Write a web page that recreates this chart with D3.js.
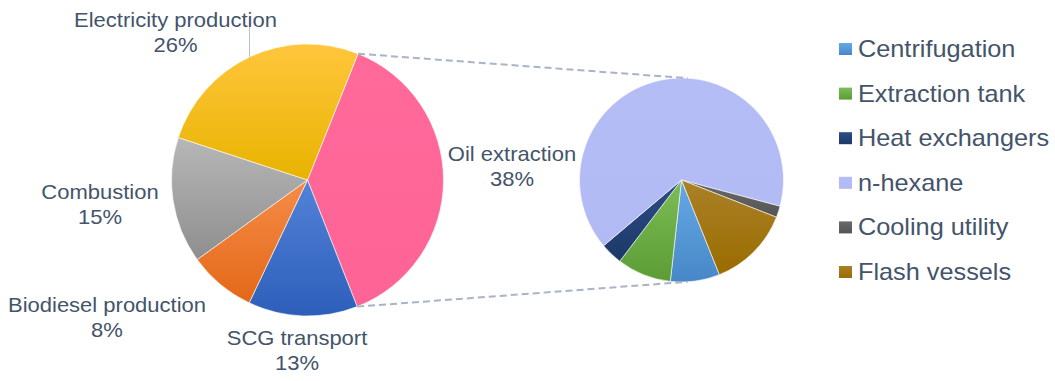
<!DOCTYPE html>
<html>
<head>
<meta charset="utf-8">
<script src="https://cdn.jsdelivr.net/npm/d3@7"></script>
<style>
	body { margin: 0; background: #fff; }
	svg { display: block; }
	text { font-family: "Liberation Sans", Arial, sans-serif; fill: #44546a; }
</style>
</head>
<body>
<svg id="chart" width="1055" height="381"></svg>
<script>
// main pie data (clockwise from the oil extraction slice)
var mainNames = ['Oil extraction', 'SCG transport', 'Biodiesel production', 'Combustion', 'Electricity production'];
var mainValues = [38, 13, 8, 15, 26];
var mainLabels = ['38%', '13%', '8%', '15%', '26%'];

// breakdown of oil extraction (legend order)
var subNames = ['Centrifugation', 'Extraction tank', 'Heat exchangers', 'n-hexane', 'Cooling utility', 'Flash vessels'];
var subValues = [7.8, 8.6, 3.5, 65.3, 1.8, 13.0];

(function() {
var app = {
	// colours - top / bottom of each slice gradient
	mainColors : [['#ff6a9b', '#fe6395'], ['#5382d8', '#2d5fba'], ['#f68c48', '#e36818'], ['#b7b7b7', '#8e8e8e'], ['#ffc63c', '#e8b300']],
	subColors : [['#66a9e6', '#4787c7'], ['#7dbd57', '#5c9c34'], ['#2d4e88', '#1d3868'], ['#b5bdf7', '#b2baf4'], ['#6a6a6a', '#555555'], ['#ab8128', '#9a6c00']],

	// label layout for the big pie (centre x, first baseline)
	labelPos : [[512, 161], [297, 345], [107, 312], [100, 199], [175.5, 26.5]],

	draw : function() {
		var svg = d3.select('#chart'),
				defs = svg.append('defs'),
				deg = Math.PI / 180;

		var main = {cx: 307.5, cy: 180, r: 136, start: 21.8 * deg},
				sub = {cx: 681.5, cy: 180, r: 102, start: 158.2 * deg};

		function gradient(id, cols) {
			var g = defs.append('linearGradient')
					.attr('id', id)
					.attr('x1', 0).attr('y1', 0).attr('x2', 0).attr('y2', 1);
			g.append('stop').attr('offset', '0%').attr('stop-color', cols[0]);
			g.append('stop').attr('offset', '100%').attr('stop-color', cols[1]);
		}

		function drawPie(p, values, colors, prefix) {
			var pie = d3.pie().sort(null).startAngle(p.start).endAngle(p.start + 2 * Math.PI),
					arc = d3.arc().innerRadius(0).outerRadius(p.r),
					arcs = pie(values);
			colors.forEach(function(c, i) { gradient(prefix + i, c); });
			svg.append('g')
				.attr('transform', 'translate(' + p.cx + ',' + p.cy + ')')
				.selectAll('path')
				.data(arcs)
				.enter().append('path')
					.attr('d', arc)
					.attr('fill', function(d, i) { return 'url(#' + prefix + i + ')'; })
					.attr('stroke', '#fff')
					.attr('stroke-width', 0.6);
			return arcs;
		}

		function point(p, a) {
			return [p.cx + p.r * Math.sin(a), p.cy - p.r * Math.cos(a)];
		}

		// stretched text like the original rendering
		function label(x, y, str, size, anchor) {
			svg.append('text')
				.attr('transform', 'translate(' + x + ',' + y + ') scale(1.1,1)')
				.attr('text-anchor', anchor || 'middle')
				.style('font-size', size + 'px')
				.text(str);
		}

		var mainArcs = drawPie(main, mainValues, this.mainColors, 'gm');
		drawPie(sub, subValues, this.subColors, 'gs');

		// dashed connectors from the oil extraction slice to the breakdown pie
		var oil = mainArcs[0],
				lines = [[point(main, oil.startAngle), point(sub, 3.5 * deg)],
								 [point(main, oil.endAngle), point(sub, 176.5 * deg)]];
		svg.selectAll('.connector')
			.data(lines)
			.enter().append('line')
				.attr('class', 'connector')
				.attr('x1', function(d) { return d[0][0]; })
				.attr('y1', function(d) { return d[0][1]; })
				.attr('x2', function(d) { return d[1][0]; })
				.attr('y2', function(d) { return d[1][1]; })
				.attr('stroke', '#a9b4c4')
				.attr('stroke-width', 2)
				.attr('stroke-dasharray', '7,4');

		// leader line for electricity production
		var elec = mainArcs[4],
				mid = (elec.startAngle + elec.endAngle) / 2,
				lx = 249.5;
		svg.append('line')
			.attr('x1', lx).attr('y1', 26)
			.attr('x2', lx).attr('y2', main.cy - Math.sqrt(main.r * main.r - (lx - main.cx) * (lx - main.cx)))
			.attr('stroke', '#b8c1cf')
			.attr('stroke-width', 1);

		// data labels
		var pos = this.labelPos;
		mainNames.forEach(function(n, i) {
			label(pos[i][0], pos[i][1], n, 20);
			label(pos[i][0], pos[i][1] + 25, mainLabels[i], 20);
		});

		// legend
		var subColors = this.subColors;
		var legend = svg.append('g').attr('transform', 'translate(839,49)');
		subNames.forEach(function(n, i) {
			var y = i * 44.6;
			legend.append('rect')
				.attr('x', 0).attr('y', y - 6)
				.attr('width', 13).attr('height', 12)
				.attr('fill', 'url(#gs' + i + ')');
			label(858, 49 + y + 8, n, 23, 'start');
		});
	}
};
app.draw();
})();
</script>
</body>
</html>
